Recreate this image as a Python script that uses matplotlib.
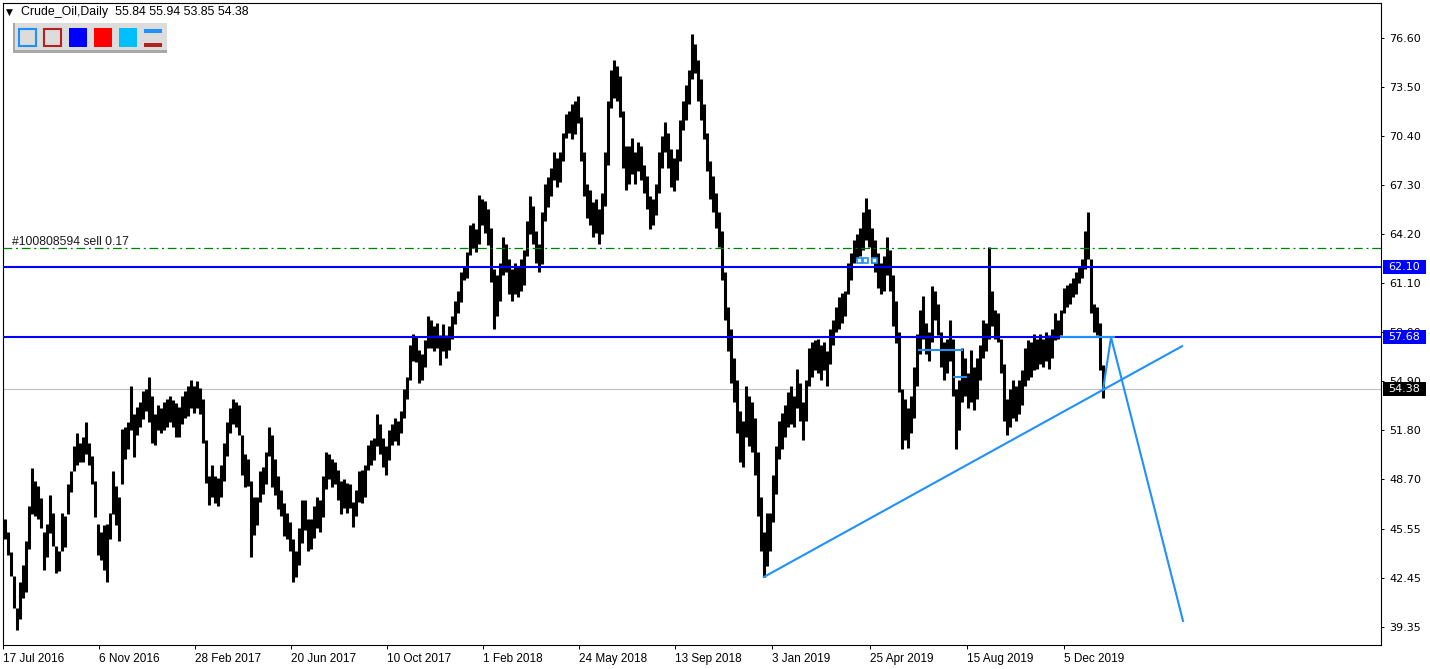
import matplotlib
matplotlib.use("Agg")
import matplotlib.pyplot as plt
from matplotlib.patches import Rectangle
from matplotlib.transforms import blended_transform_factory

# ---------------- data ----------------
# each entry = one drawn bar covering three daily slots, starting 17 Jul 2016
bar_low = [
    44.9, 43.9, 42.6, 40.6, 39.2, 39.9, 41.2, 41.6, 44.3, 46.5,
    46.4, 46.2, 45.6, 43.0, 43.8, 45.3, 44.5, 42.8, 42.9, 44.2,
    44.4, 46.5, 47.9, 49.2, 49.6, 49.8, 49.8, 50.3, 49.6, 48.4,
    46.3, 43.9, 43.6, 43.0, 42.2, 44.9, 46.5, 45.8, 44.8, 48.4,
    50.0, 50.6, 51.8, 50.1, 51.5, 52.0, 52.5, 53.0, 52.3, 51.0,
    50.9, 51.8, 51.6, 51.8, 52.0, 52.3, 52.0, 51.4, 51.4, 52.2,
    52.6, 52.7, 53.2, 52.9, 53.2, 52.8, 51.0, 48.5, 47.1, 47.6,
    47.2, 47.0, 47.6, 48.6, 50.2, 51.6, 52.2, 52.0, 51.5, 49.0,
    48.2, 48.3, 43.8, 45.2, 45.8, 47.3, 47.8, 48.4, 50.2, 48.2,
    47.7, 46.8, 46.4, 45.1, 44.9, 44.2, 42.2, 42.5, 43.3, 44.7,
    45.5, 44.2, 44.3, 45.0, 45.6, 45.4, 46.3, 48.1, 48.7, 48.2,
    48.4, 47.4, 46.5, 46.9, 46.6, 46.9, 45.7, 46.4, 47.3, 47.2,
    47.6, 49.3, 49.6, 49.9, 50.8, 50.3, 49.5, 49.0, 49.9, 50.9,
    51.1, 50.9, 51.6, 52.6, 53.8, 55.0, 56.2, 56.1, 54.8, 55.0,
    55.8, 57.0, 57.0, 56.8, 57.0, 55.9, 56.8, 56.4, 56.9, 57.6,
    58.5, 59.2, 59.9, 61.3, 61.4, 62.9, 63.3, 63.1, 63.6, 64.8,
    64.3, 63.5, 61.2, 58.2, 59.0, 60.0, 61.6, 61.8, 60.4, 60.0,
    60.4, 60.2, 60.6, 61.0, 62.8, 64.2, 63.6, 62.4, 61.8, 62.3,
    65.0, 65.9, 66.6, 67.6, 67.2, 67.5, 68.8, 70.3, 70.6, 70.2,
    70.5, 71.2, 68.8, 66.6, 65.2, 64.8, 64.0, 64.3, 63.6, 64.2,
    66.0, 68.6, 72.2, 72.8, 72.6, 71.6, 68.4, 67.0, 67.4, 68.0,
    67.4, 68.2, 67.6, 66.8, 65.8, 64.5, 64.8, 65.4, 66.8, 68.4,
    69.4, 68.4, 67.2, 66.9, 67.6, 68.8, 70.8, 71.4, 72.4, 74.0,
    74.4, 72.6, 71.4, 70.2, 68.2, 66.4, 65.6, 64.6, 63.4, 61.3,
    58.8, 56.8, 54.8, 53.6, 51.6, 49.8, 49.5, 51.4, 50.8, 50.4,
    49.0, 46.4, 44.2, 42.5, 43.2, 44.2, 46.0, 47.8, 50.0, 50.6,
    51.4, 52.0, 52.2, 52.0, 53.2, 52.4, 51.2, 52.4, 54.6, 55.2,
    55.6, 55.4, 55.0, 55.6, 54.6, 56.0, 57.2, 58.0, 58.2, 58.6,
    59.0, 60.4, 61.3, 62.4, 62.6, 62.8, 63.2, 63.8, 63.4, 62.4,
    61.8, 60.8, 60.4, 60.6, 61.6, 60.6, 58.4, 57.3, 54.2, 50.6,
    51.2, 50.7, 51.6, 52.6, 54.6, 56.6, 57.6, 56.6, 56.2, 57.4,
    58.8, 57.8, 55.8, 55.0, 55.4, 56.2, 54.0, 50.6, 51.8, 53.6,
    54.0, 53.2, 53.6, 53.1, 53.8, 55.0, 56.4, 56.8, 57.6, 58.4,
    57.6, 57.4, 55.4, 52.4, 51.5, 52.0, 52.6, 52.4, 52.8, 53.4,
    54.6, 55.0, 55.2, 55.6, 55.7, 56.0, 55.8, 56.2, 55.7, 56.4,
    57.5, 57.6, 57.8, 59.2, 59.6, 59.8, 60.2, 60.4, 61.1, 61.4,
    62.0, 62.6, 59.2, 58.0, 57.8, 55.6, 53.85]

bar_high = [
    46.2, 45.4, 44.1, 42.6, 40.6, 42.2, 43.3, 44.8, 47.0, 49.4,
    48.6, 48.3, 47.5, 45.4, 45.9, 47.7, 46.6, 44.5, 44.2, 46.6,
    46.4, 48.4, 49.2, 50.8, 51.6, 51.0, 51.4, 52.3, 51.0, 50.2,
    48.6, 45.9, 45.4, 45.8, 45.9, 46.6, 49.2, 48.3, 47.6, 51.9,
    52.0, 52.3, 54.6, 52.8, 53.3, 53.6, 54.3, 54.4, 55.2, 54.0,
    52.8, 53.4, 53.2, 53.6, 53.8, 54.0, 53.7, 53.5, 53.3, 54.0,
    54.3, 54.6, 55.0, 54.6, 54.9, 54.5, 53.8, 51.2, 48.9, 49.6,
    48.9, 48.8, 49.6, 51.0, 52.3, 53.2, 53.8, 53.6, 53.4, 51.5,
    50.3, 50.0, 48.6, 47.6, 47.6, 49.2, 49.5, 50.4, 52.0, 51.5,
    50.0, 48.9, 48.0, 47.2, 46.6, 46.0, 44.9, 44.2, 45.6, 47.4,
    47.4, 46.2, 46.2, 47.0, 47.6, 47.4, 48.9, 50.4, 50.3, 50.0,
    49.8, 49.3, 48.6, 48.7, 48.5, 48.4, 47.3, 48.0, 49.2, 49.3,
    49.6, 50.9, 51.2, 51.3, 52.8, 52.2, 51.3, 50.8, 51.8, 52.2,
    52.6, 52.4, 53.0, 54.4, 55.2, 57.2, 57.9, 57.7, 56.9, 56.6,
    57.5, 59.0, 58.8, 58.4, 58.6, 57.8, 58.5, 57.8, 58.4, 59.0,
    60.0, 60.6, 61.8, 62.2, 63.1, 64.8, 64.9, 64.5, 66.7, 66.4,
    66.3, 65.8, 64.6, 62.0, 61.6, 62.4, 64.0, 63.6, 62.6, 62.0,
    62.4, 62.2, 62.6, 63.2, 65.0, 66.6, 66.0, 64.4, 63.6, 65.6,
    67.4, 67.8, 68.4, 69.4, 69.0, 69.4, 70.6, 71.8, 72.0, 72.4,
    72.6, 72.9, 71.6, 69.4, 67.4, 67.0, 66.2, 66.4, 65.8, 66.8,
    69.4, 72.6, 74.6, 75.2, 74.8, 74.2, 72.0, 69.8, 69.8, 70.3,
    69.4, 70.0, 69.8, 68.6, 67.9, 66.6, 66.4, 67.4, 69.4, 70.4,
    71.3, 70.6, 69.6, 69.0, 69.6, 71.4, 72.6, 73.6, 74.6, 76.85,
    76.2, 75.2, 74.0, 72.4, 70.6, 68.8, 67.9, 66.8, 65.6, 64.4,
    61.8, 59.6, 58.2, 56.4, 55.0, 53.0, 52.4, 54.6, 54.0, 53.6,
    52.6, 50.4, 47.6, 45.4, 46.6, 46.6, 49.0, 50.8, 52.4, 52.9,
    53.4, 54.2, 54.6, 54.0, 55.7, 54.8, 53.6, 55.0, 57.0, 57.4,
    57.5, 57.6, 57.2, 57.4, 56.8, 58.2, 58.8, 59.6, 60.2, 60.5,
    60.6, 62.4, 63.0, 63.8, 64.2, 64.6, 65.6, 66.5, 65.8, 64.6,
    63.8, 63.0, 62.4, 62.8, 64.0, 63.2, 61.6, 60.0, 58.0, 54.4,
    53.8, 53.2, 54.0, 55.8, 57.9, 59.4, 60.3, 58.6, 58.0, 60.9,
    60.6, 59.8, 58.0, 57.4, 57.6, 58.8, 57.6, 54.4, 55.0, 57.0,
    56.4, 55.4, 56.9, 55.8, 56.4, 57.2, 58.8, 58.6, 63.4, 60.6,
    59.4, 59.2, 57.6, 56.0, 53.8, 54.4, 55.0, 54.6, 55.0, 55.6,
    57.0, 57.5, 57.4, 57.9, 57.6, 57.9, 57.6, 58.0, 57.8, 58.2,
    59.2, 58.8, 59.4, 60.8, 61.0, 61.1, 61.4, 61.8, 62.2, 62.6,
    64.4, 65.6, 62.6, 59.8, 59.6, 58.6, 55.94]

date_labels = ["17 Jul 2016", "6 Nov 2016", "28 Feb 2017", "20 Jun 2017",
               "10 Oct 2017", "1 Feb 2018", "24 May 2018", "13 Sep 2018",
               "3 Jan 2019", "25 Apr 2019", "15 Aug 2019", "5 Dec 2019"]
date_slots = [-1, 95, 191, 287, 383, 479, 575, 671, 768, 866, 963, 1060]

price_ticks = [76.60, 73.50, 70.40, 67.30, 64.20, 61.10, 58.00,
               54.90, 51.80, 48.70, 45.55, 42.45, 39.35]

level_lines = [62.10, 57.68]
bid_price = 54.38
order_price = 63.34
order_text = "#100808594 sell 0.17"
header_text = "Crude_Oil,Daily  55.84 55.94 53.85 54.38"

trend_x = [759, 1179]
trend_y = [42.50, 57.15]
zigzag_x = [1099, 1107, 1179]
zigzag_y = [54.35, 57.68, 39.75]
seg_x0 = [1056, 914, 949]
seg_x1 = [1111, 959, 963]
seg_y = [57.68, 56.88, 55.17]
mark_x = [854.5, 861, 870]
mark_y = [62.57, 62.57, 62.57]

# ---------------- figure ----------------
W, H, DPI = 1430, 669, 100
fig = plt.figure(figsize=(W / DPI, H / DPI), dpi=DPI)
fig.patch.set_facecolor("white")


def fx(px):
    return px / W


def fy(py):
    return 1 - py / H


ax = fig.add_axes([fx(3), fy(645), (1381 - 3) / W, (645 - 3) / H])
ax.set_facecolor("white")
ax.set_xlim(-1, 1377)
ax.set_ylim(38.23, 78.81)

slots_per_bar = 3
xs = [slots_per_bar * i + 1 for i in range(len(bar_low))]
ax.vlines(xs, bar_low, bar_high, colors="black", linewidth=2.2, zorder=2)

# horizontal levels
ax.axhline(bid_price, color="#C0C0C0", lw=0.8, zorder=1)
ax.axhline(order_price, color="#008000", lw=0.9, dashes=(7, 3, 1.6, 3), zorder=3)
for lv in level_lines:
    ax.axhline(lv, color="#0000FF", lw=1.5, zorder=3)

blue = "#1E90FF"
ax.plot(trend_x, trend_y, color=blue, lw=1.5, zorder=4, solid_capstyle="butt")
ax.plot(zigzag_x, zigzag_y, color=blue, lw=1.5, zorder=4)
ax.hlines(seg_y, seg_x0, seg_x1, colors=blue, lw=1.5, zorder=4)
ax.plot(mark_x, mark_y, ls="none", marker="s", ms=3.6, mfc="white",
        mec=blue, mew=1.2, zorder=5)

# axes styling
for sp in ax.spines.values():
    sp.set_color("black")
    sp.set_linewidth(0.8)

ax.yaxis.tick_right()
ax.set_yticks(price_ticks)
ax.set_yticklabels([f"{v:.2f}" for v in price_ticks])
ax.tick_params(axis="y", direction="out", length=2.5, width=0.7, pad=3.5,
               labelsize=8, colors="black")
ax.set_xticks(date_slots)
ax.set_xticklabels(date_labels)
ax.tick_params(axis="x", direction="out", length=3, width=0.7, pad=2.5,
               labelsize=8.5, colors="black")
for lbl in ax.get_xticklabels():
    lbl.set_horizontalalignment("left")
    lbl.set_fontfamily("Liberation Sans")
for lbl in ax.get_yticklabels():
    lbl.set_fontfamily("DejaVu Sans")

# price label boxes on the right scale
trans = blended_transform_factory(fig.transFigure, ax.transData)
box_h = 14 / 15.82
for price, col in [(level_lines[0], "#0000FF"), (level_lines[1], "#0000FF"),
                   (bid_price, "black")]:
    fig.add_artist(Rectangle((fx(1383), price - box_h / 2), (1426 - 1383) / W, box_h,
                             transform=trans, facecolor=col, edgecolor="none",
                             clip_on=False, zorder=10))
    fig.text(fx(1388), price, f"{price:.2f}", transform=trans, color="white",
             fontsize=8, family="DejaVu Sans", va="center", ha="left", zorder=11)

# order label
fig.text(fx(12), fy(245), order_text, fontsize=8.7, family="Liberation Sans",
         color="#1a1a1a", va="baseline", ha="left")

# header
fig.text(fx(6), fy(12.5), "\u25BC", fontsize=6.5, family="DejaVu Sans",
         color="black", va="center", ha="left")
fig.text(fx(21), fy(12.5), header_text, fontsize=8.9, family="Liberation Sans",
         color="black", va="center", ha="left")


def rect_px(x0, y0, x1, y1, **kw):
    r = Rectangle((fx(x0), fy(y1)), (x1 - x0) / W, (y1 - y0) / H,
                  transform=fig.transFigure, clip_on=False, zorder=12, **kw)
    fig.add_artist(r)


# toolbar
rect_px(13, 23, 167, 53, facecolor="#A8A8A8", edgecolor="none")
rect_px(15, 23, 167, 50, facecolor="#DCDCDC", edgecolor="none")
rect_px(19, 29, 36, 46, facecolor="#DCDCDC", edgecolor="#1E90FF", lw=1.5)
rect_px(44, 29, 61, 46, facecolor="#DCDCDC", edgecolor="#B22222", lw=1.5)
rect_px(69, 28, 87, 47, facecolor="#0000FF", edgecolor="none")
rect_px(94, 28, 112, 47, facecolor="#FF0000", edgecolor="none")
rect_px(119, 28, 137, 47, facecolor="#00BFFF", edgecolor="none")
rect_px(144, 29, 162, 32.5, facecolor="#1E90FF", edgecolor="none")
rect_px(144, 43, 162, 47, facecolor="#B22222", edgecolor="none")

fig.savefig("out.png", dpi=DPI, facecolor="white")
